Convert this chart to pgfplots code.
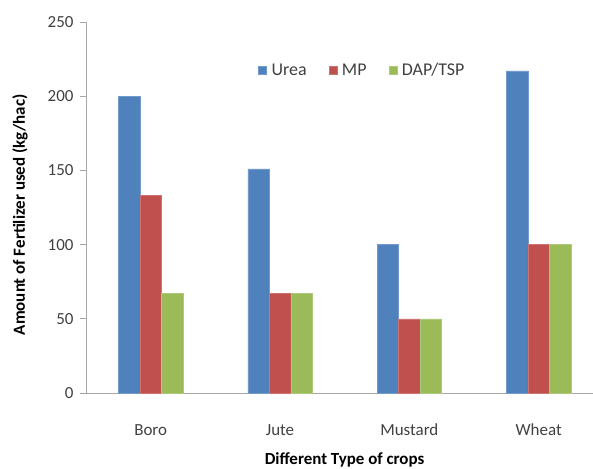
\documentclass[border=0pt]{standalone}
\usepackage{fontspec}
\setmainfont{Carlito}
\usepackage{pgfplots}
\pgfplotsset{compat=1.18}
\definecolor{urea}{HTML}{4F81BD}
\definecolor{mp}{HTML}{C0504D}
\definecolor{dap}{HTML}{9BBB59}
\definecolor{axisgray}{HTML}{A6A6A6}
\definecolor{txt}{HTML}{404040}

\begin{document}
\begin{tikzpicture}
\useasboundingbox (-86bp,-76bp) rectangle (507bp,393bp);
\begin{axis}[
    at={(0,0)}, anchor=south west,
    scale only axis,
    width=507bp, height=371bp,
    ybar=0pt,
    bar width=21.5bp,
    ymin=0, ymax=250,
    ytick={0,50,...,250},
    xmin=-0.5, xmax=3.42,
    xtick={0,1,2,3},
    xticklabels={Boro, Jute, Mustard, Wheat},
    axis x line*=bottom,
    axis y line*=left,
    axis line style={axisgray, line width=0.9pt},
    x axis line style={-},
    y axis line style={-},
    major x tick style={draw=none},
    major y tick style={axisgray, line width=0.9pt},
    tick align=outside,
    major tick length=6bp,
    tick label style={font=\fontsize{17}{20}\selectfont, text=txt},
    /pgf/number format/assume math mode=true,
    xticklabel style={anchor=center, yshift=-31bp},
    yticklabel style={xshift=-3bp},
    xlabel={\textbf{Different Type of crops}},
    ylabel={\textbf{Amount of Fertilizer used (kg/hac)}},
    label style={font=\fontsize{17}{20}\selectfont},
    xlabel style={at={(axis description cs:0.51,0)}, anchor=center, yshift=-67bp},
    ylabel style={at={(axis description cs:0,0.48)}, anchor=center, yshift=66bp},
    legend style={at={(axis description cs:0.545,0.87)}, anchor=center,
        draw=none, fill=none, legend columns=-1,
        font=\fontsize{18}{21}\selectfont, text=txt,
        inner sep=0pt,
        /tikz/every even column/.append style={column sep=20bp}},
    legend image code/.code={\fill[#1] (0bp,-4bp) rectangle (8bp,4bp); \path (11bp,0bp);},
    clip=true,
]
\addplot[fill=urea, draw=urea!80!white] coordinates {(0,200) (1,151) (2,100) (3,217)};
\addplot[fill=mp, draw=mp!80!white] coordinates {(0,133) (1,67) (2,50) (3,100)};
\addplot[fill=dap, draw=dap!80!white] coordinates {(0,67) (1,67) (2,50) (3,100)};
\legend{Urea, MP, DAP/TSP}
\end{axis}
\end{tikzpicture}
\end{document}
